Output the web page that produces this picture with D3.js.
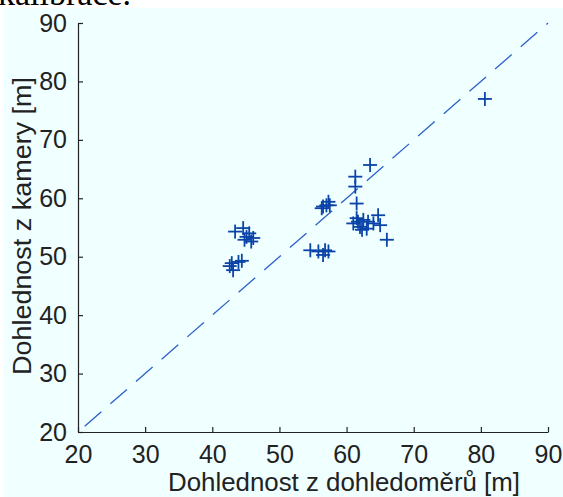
<!DOCTYPE html>
<html>
<head>
<meta charset="utf-8">
<script src="https://cdn.jsdelivr.net/npm/d3@7"></script>
<style>
body { margin: 0; background: #fff; }
</style>
</head>
<body>
<svg id="svg1" width="563" height="497"></svg>
<script>
// values
var dohledomer = [44.6, 45.1, 43.4, 46.1, 45.5, 44.8, 45.8, 42.9, 43.9, 44.4, 42.6, 43.1,
	54.6, 55.8, 56.8, 57.3, 56.5,
	56.5, 57.3, 57.0, 56.3, 57.5,
	63.5, 61.3, 61.3, 61.5, 61.7, 61.5, 61.0, 62.0, 62.5, 62.3, 63.2, 64.0, 64.7, 65.0, 66.0, 63.0,
	80.6];
var kamera = [54.9, 53.4, 54.3, 53.2, 54.0, 52.9, 52.6, 48.9, 49.1, 49.3, 48.4, 47.7,
	51.1, 50.9, 51.1, 50.9, 50.3,
	58.6, 59.4, 58.8, 58.3, 58.8,
	65.7, 63.7, 62.0, 59.1, 56.0, 56.6, 55.7, 55.1, 56.3, 54.6, 56.0, 55.7, 57.1, 55.4, 52.9, 54.8,
	77.0];
var lineEnds = [21, 90];
var ticks = [20, 30, 40, 50, 60, 70, 80, 90];

var svg1 = d3.select("#svg1"),
	margin = {top: 23, right: 15, bottom: 65, left: 78},
	width = +svg1.attr("width") - margin.left - margin.right,
	height = +svg1.attr("height") - margin.top - margin.bottom;

// clipped caption above the figure
svg1.append("text")
	.attr("x", -2)
	.attr("y", 5)
	.attr("font-family", "Liberation Serif, serif")
	.attr("font-size", 34)
	.attr("fill", "#000")
	.text("kalibrace.");

svg1.append("rect")
	.attr("x", 3)
	.attr("y", 8)
	.attr("width", 560)
	.attr("height", 489)
	.attr("fill", "#f0ffff");

var g1 = svg1.append("g").attr("transform", "translate(" + margin.left + "," + margin.top + ")");

var x = d3.scaleLinear().domain([20, 90]).range([0, width]);
var y = d3.scaleLinear().domain([20, 90]).range([height, 0]);

var data = dohledomer.map(function(d, i) { return {x: d, y: kamera[i]}; });

// y = x reference line
g1.append("line")
	.attr("x1", x(lineEnds[0]))
	.attr("y1", y(lineEnds[0]))
	.attr("x2", x(lineEnds[1]))
	.attr("y2", y(lineEnds[1]))
	.attr("stroke", "#2a62c9")
	.attr("stroke-width", 1.3)
	.attr("stroke-dasharray", "22,12");

// plus markers
var arm = 7;
var marks = g1.append("g")
	.attr("stroke", "#0a44a8")
	.attr("stroke-width", 1.8)
	.selectAll("g")
	.data(data)
	.enter().append("g")
	.attr("transform", function(d) { return "translate(" + x(d.x) + "," + y(d.y) + ")"; });

marks.append("line").attr("x1", -arm).attr("x2", arm);
marks.append("line").attr("y1", -arm).attr("y2", arm);

// axes, ticks pointing inward
var xAxis = g1.append("g")
	.attr("class", "axis")
	.attr("transform", "translate(0," + height + ")")
	.call(d3.axisBottom(x).tickValues(ticks).tickSize(-5).tickPadding(12).tickSizeOuter(0));

var yAxis = g1.append("g")
	.attr("class", "axis")
	.call(d3.axisLeft(y).tickValues(ticks).tickSize(-5).tickPadding(11).tickSizeOuter(0));

g1.selectAll(".axis path, .axis line")
	.attr("stroke", "#222")
	.attr("stroke-width", 1.2);

g1.selectAll(".axis text")
	.attr("font-family", "Liberation Sans, Arial, sans-serif")
	.attr("font-size", 25)
	.attr("fill", "#222");

xAxis.selectAll("text").attr("dy", "0.75em");

// axis titles
svg1.append("text")
	.attr("x", 168)
	.attr("y", 491)
	.attr("font-family", "Liberation Sans, Arial, sans-serif")
	.attr("font-size", 25)
	.attr("fill", "#222")
	.attr("textLength", 352)
	.attr("lengthAdjust", "spacingAndGlyphs")
	.text("Dohlednost z dohledoměrů [m]");

svg1.append("text")
	.attr("transform", "translate(31,226) rotate(-90)")
	.attr("text-anchor", "middle")
	.attr("font-family", "Liberation Sans, Arial, sans-serif")
	.attr("font-size", 25)
	.attr("fill", "#222")
	.attr("textLength", 298)
	.attr("lengthAdjust", "spacingAndGlyphs")
	.text("Dohlednost z kamery [m]");
</script>
</body>
</html>
